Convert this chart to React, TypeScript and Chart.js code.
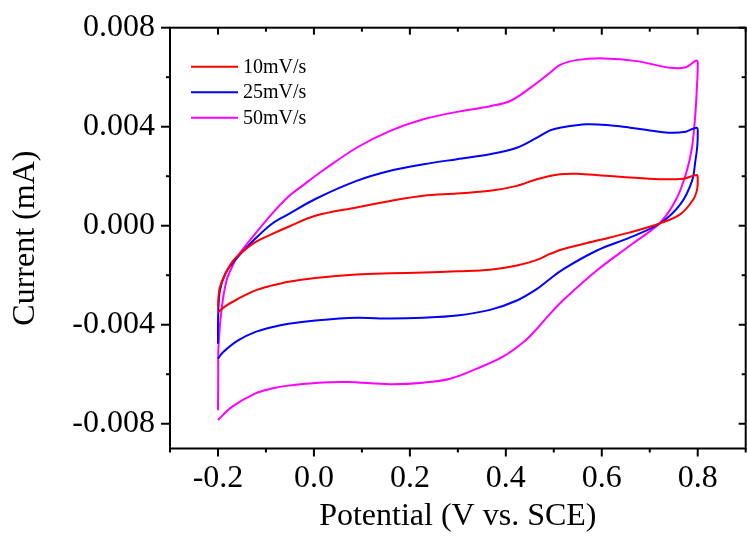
import React, { useEffect, useRef } from 'react';
import { Chart, registerables } from 'chart.js';

Chart.register(...registerables);

const xTickValues = [-0.2, 0, 0.2, 0.4, 0.6, 0.8];
const xTickLabels = ['-0.2', '0.0', '0.2', '0.4', '0.6', '0.8'];
const xMinorValues = [-0.3, -0.1, 0.1, 0.3, 0.5, 0.7, 0.9];
const yTickValues = [-0.008, -0.004, 0, 0.004, 0.008];
const yTickLabels = ['-0.008', '-0.004', '0.000', '0.004', '0.008'];
const yMinorValues = [-0.006, -0.002, 0.002, 0.006];

const seriesLabels = ['10mV/s', '25mV/s', '50mV/s'];
const seriesColors = ['#FF0000', '#0000FF', '#FF00FF'];

const potential10 = [-0.2, -0.199, -0.196, -0.185, -0.171, -0.158, -0.123, -0.088, -0.053, 0.003, 0.089, 0.159, 0.228, 0.298, 0.367, 0.423, 0.465, 0.513, 0.55, 0.6, 0.65, 0.72, 0.77, 0.798, 0.8, 0.799, 0.791, 0.764, 0.722, 0.659, 0.59, 0.52, 0.492, 0.465, 0.423, 0.367, 0.298, 0.228, 0.159, 0.089, 0.003, -0.053, -0.088, -0.123, -0.158, -0.185, -0.2];
const current10 = [-0.0033, -0.0029, -0.00248, -0.00195, -0.00148, -0.0012, -0.00067, -0.00034, -0.00004, 0.0004, 0.00074, 0.001, 0.00121, 0.0013, 0.00141, 0.00161, 0.00188, 0.00208, 0.0021, 0.00203, 0.00196, 0.00188, 0.0019, 0.00205, 0.0019, 0.0015, 0.00107, 0.00047, 0.0001, -0.00027, -0.0006, -0.00094, -0.00114, -0.00138, -0.00161, -0.00178, -0.00184, -0.00189, -0.00192, -0.00197, -0.00211, -0.00226, -0.00242, -0.00262, -0.00295, -0.00326, -0.0035];

const potential25 = [-0.2, -0.1995, -0.196, -0.185, -0.171, -0.158, -0.123, -0.088, -0.053, 0.003, 0.089, 0.159, 0.228, 0.298, 0.367, 0.423, 0.465, 0.492, 0.513, 0.569, 0.62, 0.659, 0.7, 0.739, 0.775, 0.798, 0.8, 0.799, 0.795, 0.788, 0.764, 0.722, 0.659, 0.59, 0.52, 0.492, 0.465, 0.423, 0.367, 0.298, 0.228, 0.159, 0.089, 0.003, -0.053, -0.088, -0.123, -0.158, -0.189, -0.2];
const current25 = [-0.00477, -0.00356, -0.00262, -0.00195, -0.00154, -0.00125, -0.00054, 0.00007, 0.00047, 0.00108, 0.00181, 0.00222, 0.00248, 0.00269, 0.00289, 0.00315, 0.00356, 0.00385, 0.00396, 0.0041, 0.00405, 0.00396, 0.00385, 0.00376, 0.0038, 0.00396, 0.0037, 0.0032, 0.0026, 0.0018, 0.00087, 0.0001, -0.00047, -0.001, -0.00175, -0.00215, -0.00255, -0.00302, -0.0034, -0.00363, -0.00372, -0.00375, -0.00372, -0.00383, -0.00396, -0.0041, -0.0043, -0.00463, -0.0051, -0.00537];

const potential50 = [-0.2, -0.1995, -0.199, -0.192, -0.182, -0.171, -0.158, -0.123, -0.088, -0.053, -0.025, 0.02, 0.089, 0.159, 0.228, 0.298, 0.367, 0.409, 0.451, 0.492, 0.513, 0.55, 0.604, 0.673, 0.743, 0.775, 0.798, 0.8, 0.798, 0.795, 0.788, 0.777, 0.757, 0.722, 0.659, 0.59, 0.52, 0.492, 0.465, 0.437, 0.395, 0.34, 0.284, 0.228, 0.159, 0.068, 0.003, -0.053, -0.088, -0.123, -0.171, -0.2];
const current50 = [-0.00745, -0.006, -0.0049, -0.0033, -0.0022, -0.00168, -0.0012, -0.00034, 0.00047, 0.00118, 0.0016, 0.00225, 0.00315, 0.00383, 0.0043, 0.0046, 0.00483, 0.00504, 0.00557, 0.00618, 0.0065, 0.0067, 0.00676, 0.00665, 0.00638, 0.0064, 0.00667, 0.0064, 0.0055, 0.0045, 0.00315, 0.0022, 0.00114, 0.00013, -0.0008, -0.0018, -0.003, -0.00356, -0.00416, -0.0047, -0.00528, -0.00577, -0.00618, -0.00634, -0.0064, -0.00631, -0.00635, -0.00646, -0.00658, -0.00678, -0.00732, -0.00785];

const FONT = '"Liberation Serif", "Times New Roman", serif';

const framePlugin = {
  id: 'cvFrame',
  afterDatasetsDraw(chart: any) {
    const { ctx, chartArea: a, scales } = chart;
    const xs = scales.x;
    const ys = scales.y;
    ctx.save();
    ctx.strokeStyle = '#000';
    ctx.lineWidth = 2;
    ctx.strokeRect(a.left, a.top, a.right - a.left, a.bottom - a.top);
    const seg = (x1: number, y1: number, x2: number, y2: number) => {
      ctx.beginPath();
      ctx.moveTo(x1, y1);
      ctx.lineTo(x2, y2);
      ctx.stroke();
    };
    xTickValues.forEach((v) => {
      const p = xs.getPixelForValue(v);
      seg(p, a.bottom, p, a.bottom + 8);
      seg(p, a.top, p, a.top + 7);
    });
    xMinorValues.forEach((v) => {
      const p = xs.getPixelForValue(v);
      seg(p, a.bottom, p, a.bottom + 4);
      seg(p, a.top, p, a.top + 4);
    });
    yTickValues.forEach((v) => {
      const p = ys.getPixelForValue(v);
      seg(a.left - 9, p, a.left, p);
      seg(a.right - 7, p, a.right, p);
    });
    yMinorValues.forEach((v) => {
      const p = ys.getPixelForValue(v);
      seg(a.left - 4, p, a.left, p);
      seg(a.right - 4, p, a.right, p);
    });
    // legend inside plot
    const lx = a.left + 21;
    const ly = a.top + 39;
    const rowH = 25.5;
    ctx.font = `20px ${FONT}`;
    ctx.textBaseline = 'middle';
    ctx.textAlign = 'left';
    chart.data.datasets.forEach((ds: any, i: number) => {
      const y = ly + i * rowH;
      ctx.strokeStyle = ds.borderColor;
      ctx.lineWidth = 2;
      seg(lx, y, lx + 47, y);
      ctx.fillStyle = '#000';
      ctx.fillText(ds.label, lx + 52, y + 1);
    });
    ctx.restore();
  },
};

const toPoints = (xs: number[], ys: number[]) => xs.map((x, i) => ({ x, y: ys[i] }));

export default function App() {
  const ref = useRef<HTMLCanvasElement | null>(null);
  useEffect(() => {
    if (!ref.current) return;
    const seriesX = [potential10, potential25, potential50];
    const seriesY = [current10, current25, current50];
    const chart = new Chart(ref.current, {
      type: 'scatter',
      data: {
        datasets: seriesLabels.map((label, i) => ({
          label,
          data: toPoints(seriesX[i], seriesY[i]),
          borderColor: seriesColors[i],
          backgroundColor: seriesColors[i],
          showLine: true,
          borderWidth: 2,
          pointRadius: 0,
          tension: 0.35,
          fill: false,
        })),
      },
      options: {
        animation: false,
        responsive: false,
        maintainAspectRatio: false,
        layout: { padding: { top: 27.7, right: 1.3, left: 0, bottom: 0 } },
        plugins: { legend: { display: false }, tooltip: { enabled: false } },
        scales: {
          x: {
            type: 'linear',
            min: -0.3,
            max: 0.9,
            afterBuildTicks: (s: any) => {
              s.ticks = xTickValues.map((v) => ({ value: v }));
            },
            afterFit: (s: any) => {
              s.height = 88.5;
              s.paddingLeft = 0;
              s.paddingRight = 0;
            },
            grid: { display: false, drawTicks: false },
            border: { display: false },
            ticks: {
              padding: 11,
              color: '#000',
              font: { family: FONT, size: 32 },
              maxRotation: 0,
              autoSkip: false,
              callback: (_v: any, i: number) => xTickLabels[i],
            },
            title: {
              display: true,
              text: 'Potential (V vs. SCE)',
              color: '#000',
              font: { family: FONT, size: 32 },
              padding: { top: 0, bottom: 1 },
            },
          },
          y: {
            type: 'linear',
            min: -0.009,
            max: 0.008,
            afterBuildTicks: (s: any) => {
              s.ticks = yTickValues.map((v) => ({ value: v }));
            },
            afterFit: (s: any) => {
              s.width = 170;
              s.paddingTop = 0;
              s.paddingBottom = 0;
            },
            grid: { display: false, drawTicks: false },
            border: { display: false },
            ticks: {
              padding: 15,
              color: '#000',
              font: { family: FONT, size: 32 },
              autoSkip: false,
              callback: (_v: any, i: number) => yTickLabels[i],
            },
            title: {
              display: true,
              text: 'Current (mA)',
              color: '#000',
              font: { family: FONT, size: 32 },
              padding: { top: 6, bottom: 0 },
            },
          },
        },
      },
      plugins: [framePlugin],
    });
    return () => chart.destroy();
  }, []);
  return (
    <div style={{ position: 'fixed', left: 0, top: 0, width: 747, height: 537, background: '#fff' }}>
      <canvas ref={ref} width={747} height={537} style={{ display: 'block' }} />
    </div>
  );
}
